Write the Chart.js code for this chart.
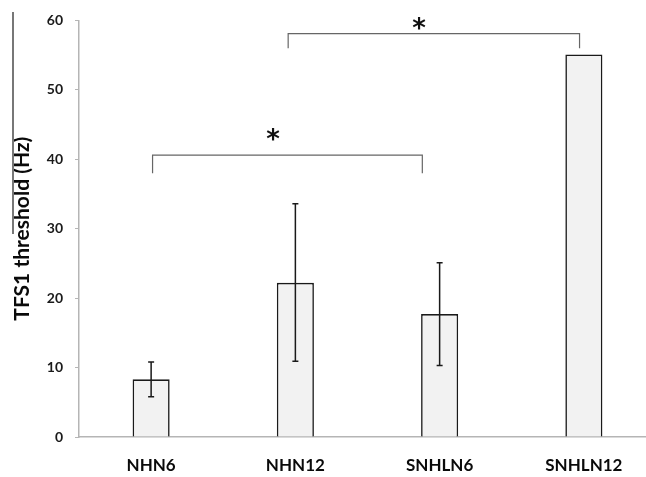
<!DOCTYPE html>
<html>
<head>
<meta charset="utf-8">
<script src="https://cdn.jsdelivr.net/npm/chart.js@4"></script>
<style>
  html, body { margin: 0; padding: 0; background: #fff; overflow: hidden; }
  #wrap { width: 656px; height: 477px; position: relative; }
</style>
</head>
<body>
<div id="wrap"><canvas id="chart"></canvas></div>
<script>
const groups = ["NHN6", "NHN12", "SNHLN6", "SNHLN12"];
const thresholds = [8.3, 22.2, 17.7, 55.1];
const errHigh = [10.8, 33.6, 25.1, null];
const errLow = [5.8, 10.9, 10.3, null];
const yTicks = [0, 10, 20, 30, 40, 50, 60];

// significance brackets, in category index / value units:
// [start, end, bar level, tick end level, star index, star level]
const brackets = [
  [0.01, 1.88, 40.6, 38.0, 0.845, 43.8],
  [0.95, 2.97, 58.1, 56.0, 1.857, 59.8]
];

const FONT = "Lato, 'Liberation Sans', sans-serif";

const errorBars = {
  id: "errorBars",
  afterDatasetsDraw(chart) {
    const ctx = chart.ctx, x = chart.scales.x, y = chart.scales.y;
    ctx.save();
    ctx.strokeStyle = "#1a1a1a";
    ctx.lineWidth = 1.5;
    groups.forEach((g, i) => {
      if (errHigh[i] == null) return;
      const cx = x.getPixelForValue(i);
      const top = y.getPixelForValue(errHigh[i]);
      const bot = y.getPixelForValue(errLow[i]);
      ctx.beginPath();
      ctx.moveTo(cx, top); ctx.lineTo(cx, bot);
      ctx.moveTo(cx - 3, top); ctx.lineTo(cx + 3, top);
      ctx.moveTo(cx - 3, bot); ctx.lineTo(cx + 3, bot);
      ctx.stroke();
    });

    ctx.strokeStyle = "#666";
    ctx.lineWidth = 1.2;
    ctx.fillStyle = "#111";
    ctx.font = "bold 26px 'DejaVu Sans', sans-serif";
    ctx.textAlign = "center";
    ctx.textBaseline = "alphabetic";
    brackets.forEach(b => {
      const x1 = x.getPixelForValue(b[0]);
      const x2 = x.getPixelForValue(b[1]);
      const yb = y.getPixelForValue(b[2]);
      const yt = y.getPixelForValue(b[3]);
      ctx.beginPath();
      ctx.moveTo(x1, yt); ctx.lineTo(x1, yb); ctx.lineTo(x2, yb); ctx.lineTo(x2, yt);
      ctx.stroke();
      ctx.fillText("*", x.getPixelForValue(b[4]), y.getPixelForValue(b[5]) + 15);
    });

    // stray scan line at the left edge of the original figure
    ctx.strokeStyle = "#777";
    ctx.lineWidth = 2;
    ctx.beginPath();
    ctx.moveTo(13, 12); ctx.lineTo(13, 234);
    ctx.stroke();
    ctx.restore();
  }
};

new Chart(document.getElementById("chart"), {
  type: "bar",
  data: {
    labels: groups,
    datasets: [{
      data: thresholds,
      backgroundColor: "#f2f2f2",
      borderColor: "#1a1a1a",
      borderWidth: 1.6,
      barPercentage: 0.257,
      categoryPercentage: 1.0
    }]
  },
  options: {
    responsive: true,
    maintainAspectRatio: false,
    animation: false,
    layout: { padding: { top: 19, right: 0, left: 0, bottom: 0 } },
    plugins: { legend: { display: false }, tooltip: { enabled: false } },
    scales: {
      x: {
        grid: { display: false, drawTicks: false },
        border: { color: "#b5b5b5", width: 1.5 },
        ticks: {
          color: "#0a0a0a",
          padding: 18,
          font: { family: FONT, size: 17, weight: "bold" }
        },
        afterFit(s) { s.height = 40; }
      },
      y: {
        min: 0, max: 60,
        afterBuildTicks(s) { s.ticks = yTicks.map(v => ({ value: v })); },
        grid: { drawOnChartArea: false, color: "#b5b5b5", tickLength: 4 },
        border: { color: "#b5b5b5", width: 1.5 },
        ticks: {
          color: "#1a1a1a",
          padding: 12,
          font: { family: FONT, size: 14, weight: "bold" }
        },
        title: {
          display: true,
          text: "TFS1 threshold (Hz)",
          color: "#0a0a0a",
          padding: { top: 10, bottom: 0 },
          font: { family: FONT, size: 21, weight: "bold" }
        },
        afterFit(s) { s.width = 79; }
      }
    }
  },
  plugins: [errorBars]
});
</script>
</body>
</html>
